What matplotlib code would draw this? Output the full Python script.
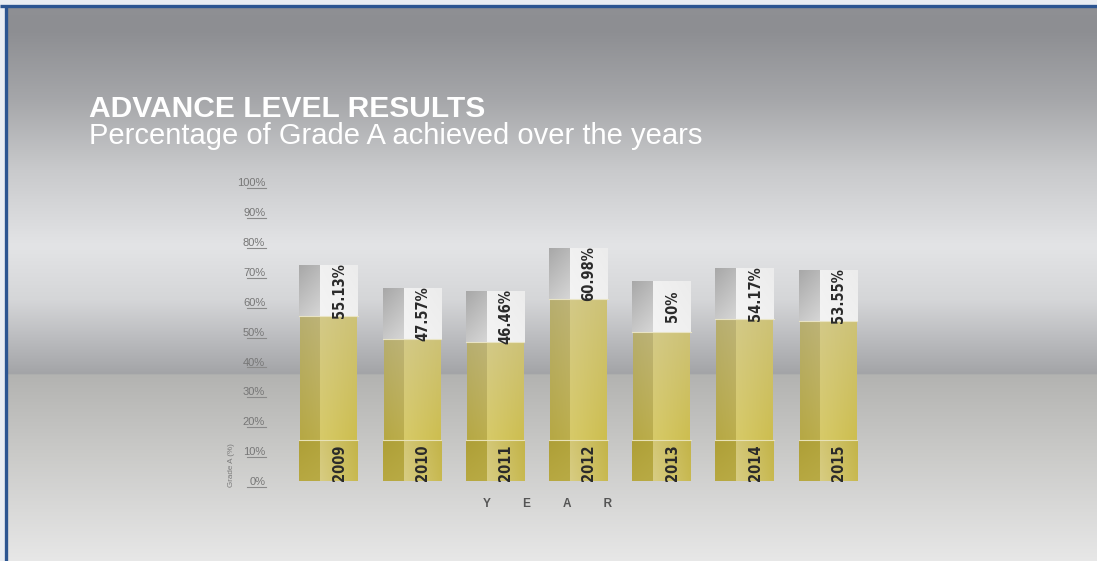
import matplotlib.pyplot as plt
import numpy as np
from matplotlib.colors import to_rgb
from matplotlib import font_manager

years = ['2009', '2010', '2011', '2012', '2013', '2014', '2015']
grade_a = [55.13, 47.57, 46.46, 60.98, 50, 54.17, 53.55]
value_labels = ['55.13%', '47.57%', '46.46%', '60.98%', '50%', '54.17%', '53.55%']
y_ticks = [0, 10, 20, 30, 40, 50, 60, 70, 80, 90, 100]

W, H, DPI = 1097, 561, 100

plt.rcParams['font.family'] = ['Liberation Sans', 'DejaVu Sans']

# narrow bold font for the labels on the bars, if one is around
cond = font_manager.FontProperties(family='DejaVu Sans', weight='bold', stretch='condensed')
cond_file = font_manager.findfont(cond, fallback_to_default=False)
if 'Condensed' in cond_file:
    bar_font = dict(family='DejaVu Sans', stretch='condensed', fontsize=10.5)
else:
    bar_font = dict(family='Liberation Sans', fontsize=9.4)


def vertical_gradient(stops, n):
    pos = np.array([s[0] for s in stops])
    cols = np.array([to_rgb(s[1]) for s in stops])
    t = np.linspace(0, 1, n)
    return np.stack([np.interp(t, pos, cols[:, k]) for k in range(3)], axis=1)


def face(ax, x0, x1, y0, y1, tl, tr, bl, br, z=2):
    # bilinear shaded rectangle in data coords
    tl, tr, bl, br = [np.array(to_rgb(c)) for c in (tl, tr, bl, br)]
    u = np.linspace(0, 1, 24)[None, :, None]
    v = np.linspace(0, 1, 48)[:, None, None]
    top = tl * (1 - u) + tr * u
    bot = bl * (1 - u) + br * u
    img = top * (1 - v) + bot * v
    ax.imshow(img, extent=[x0, x1, y0, y1], origin='upper', aspect='auto',
              interpolation='bilinear', zorder=z)


fig = plt.figure(figsize=(W / DPI, H / DPI), dpi=DPI)

# background
bg = fig.add_axes([0, 0, 1, 1])
bg_stops = [(0.0, '#8f9094'), (30 / H, '#8d8e92'), (100 / H, '#a6a7aa'),
            (170 / H, '#c9cacc'), (246 / H, '#e3e4e6'), (300 / H, '#d5d6d8'),
            (340 / H, '#babbbe'), (374 / H, '#a3a4a7'), (375 / H, '#b3b3b1'),
            (450 / H, '#c9c9c7'), (1.0, '#e7e7e7')]
grad = vertical_gradient(bg_stops, H)
bg.imshow(np.repeat(grad[:, None, :], 4, axis=1), extent=[0, W, H, 0], aspect='auto')
bg.fill_between([0, W], 0, 4, color='#e9edf3', zorder=3)
bg.fill_between([0, 4], 0, H, color='#e9edf3', zorder=3)
bg.plot([0, W], [5.5, 5.5], color='#2c5591', lw=2.4, zorder=4, solid_capstyle='butt')
bg.plot([5.5, 5.5], [5.5, H], color='#2c5591', lw=2.4, zorder=4, solid_capstyle='butt')
bg.set_xlim(0, W)
bg.set_ylim(H, 0)
bg.axis('off')

fig.text(0.081, 0.7923, 'ADVANCE LEVEL RESULTS', color='white', fontsize=21.6,
         fontweight='bold', va='baseline')
fig.text(0.081, 0.7428, 'Percentage of Grade A achieved over the years', color='white',
         fontsize=21, va='baseline')

# chart
ax = fig.add_axes([0.2617, 0.1426, 0.5309, 0.5325])
ax.patch.set_alpha(0)
for s in ax.spines.values():
    s.set_visible(False)

bw = 0.705
split = 0.36
base_top = 13.7
base_bot = -1.3
cap_h = 17

for i, (yr, val, lab) in enumerate(zip(years, grade_a, value_labels)):
    x0 = i - bw / 2
    x1 = i + bw / 2
    xm = x0 + bw * split
    # base block
    face(ax, x0, xm, base_top, base_bot, '#b8a942', '#b9ab46', '#ae9f37', '#b2a43c')
    face(ax, xm, x1, base_top, base_bot, '#d8cd84', '#c9ba52', '#d3c776', '#c3b44a')
    # shaft
    inset = 0.012
    face(ax, x0 + inset, xm, val, base_top, '#b6a844', '#bcae4c', '#b7ae70', '#bdb377')
    face(ax, xm, x1 - inset, val, base_top, '#d7ca68', '#cdbe50', '#d3c987', '#cdc277')
    # cap
    face(ax, x0, xm, val + cap_h, val, '#c8c8c8', '#d6d6d6', '#a8a8a8', '#b8b8b8')
    face(ax, xm, x1, val + cap_h, val, '#f4f4f4', '#f0f0f0', '#f1f1f1', '#ececec')
    ax.plot([x0, x1], [val, val], color='#e9e4c4', lw=0.8, zorder=3)
    ax.plot([x0, x1], [base_top, base_top], color='#e8e2b8', lw=0.8, zorder=3)

    cx = (xm + x1) / 2
    ax.text(cx, val + cap_h / 2, lab, rotation=90, ha='center', va='center',
            fontweight='bold', color='#2a2a2a', zorder=5, **bar_font)
    ax.text(cx, (base_top + base_bot) / 2, yr, rotation=90, ha='center', va='center',
            fontweight='bold', color='#2a2a2a', zorder=5, **bar_font)

ax.set_xlim(-0.5, len(years) - 0.5)
ax.set_ylim(0, 100)
ax.set_xticks([])
ax.set_yticks(y_ticks)
ax.set_yticklabels([f'{t}%' for t in y_ticks])
ax.tick_params(axis='y', length=0, pad=15.8, labelsize=8, labelcolor='#767676')

# underline under each tick label
for t in y_ticks:
    ax.plot([-0.069, -0.037], [t - 2.0, t - 2.0], transform=ax.get_yaxis_transform(),
            color='#8a8a8a', lw=0.8, clip_on=False)

ax.set_ylabel('Grade A (%)', fontsize=5.8, color='#7a7a7a')
ax.yaxis.set_label_coords(-0.089, 0.054)
ax.set_xlabel('Y          E          A          R', fontsize=8.5, fontweight='bold',
              color='#555555')
ax.xaxis.set_label_coords(0.448, -0.058)

fig.savefig('out.png', dpi=DPI)
